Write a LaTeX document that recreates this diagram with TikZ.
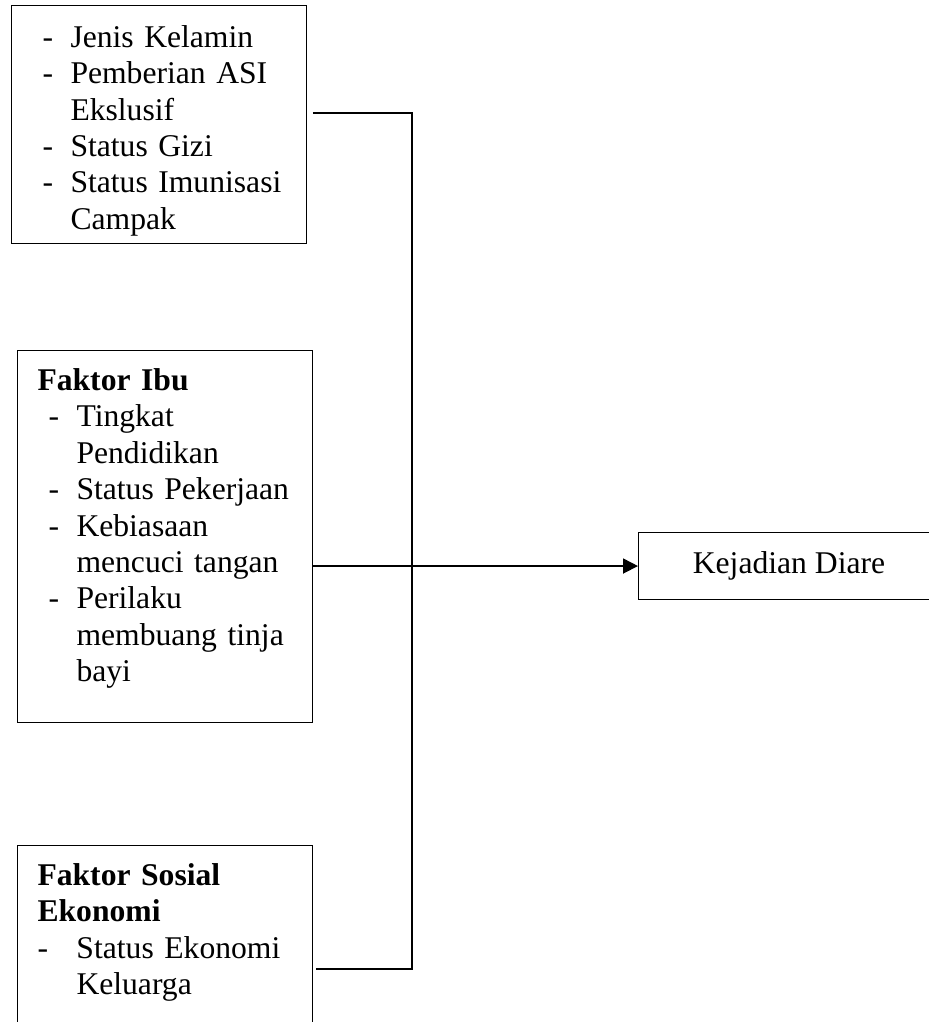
\documentclass[tikz,border=0pt]{standalone}
\usepackage{fontspec}
\setmainfont{Liberation Serif}
\usetikzlibrary{arrows.meta}
\newcommand{\itemdash}{\hspace*{0.22cm}\makebox[0.56cm][l]{-}}
\newcommand{\itemcont}{\hspace*{0.78cm}}
\begin{document}
\begin{tikzpicture}[
    x=0.02cm,y=-0.02cm,
	factor/.style={draw, line width=0.6pt, anchor=north west, text width=5.1cm, align=left, inner xsep=0.4cm, inner ysep=0, font=\fontsize{18}{20.7}\selectfont},
	outcome/.style={draw, line width=0.6pt, anchor=north west, minimum width=6.02cm, inner ysep=0, text height=0.82cm, text depth=0.52cm, font=\fontsize{18}{20.7}\selectfont},
	link/.style={line width=1pt}
]
\useasboundingbox (0,0) rectangle (929,1022);
\clip (0,0) rectangle (929,1022);

\node[factor, text height=0.84cm, text depth=3.92cm] (anak) at (11,5) {\itemdash Jenis Kelamin\\\itemdash Pemberian ASI\\\itemcont Ekslusif\\\itemdash Status Gizi\\\itemdash Status Imunisasi\\\itemcont Campak};
\node[factor, text height=0.8cm, text depth=6.64cm] (ibu) at (17,350) {\textbf{Faktor Ibu}\\\itemdash Tingkat\\\itemcont Pendidikan\\\itemdash Status Pekerjaan\\\itemdash Kebiasaan\\\itemcont mencuci tangan\\\itemdash Perilaku\\\itemcont membuang tinja\\\itemcont bayi};
\node[factor, text height=0.8cm, text depth=3.1cm] (sosek) at (17,845) {\textbf{Faktor Sosial}\\\textbf{Ekonomi}\\\makebox[0.78cm][l]{-}Status Ekonomi\\\itemcont Keluarga};
\node[outcome] (diare) at (638,532) {Kejadian Diare};

\coordinate (j1) at (412,113);
\coordinate (j3) at (412,969);
\draw[link, shorten <=0.12cm, shorten >=0.06cm] (anak.east |- j1) -- (j1) -- (j3) -- (sosek.east |- j3);
\draw[link, -{Triangle[length=0.3cm,width=0.3cm]}] (ibu.east |- diare.west) -- (diare.west);
\end{tikzpicture}
\end{document}
